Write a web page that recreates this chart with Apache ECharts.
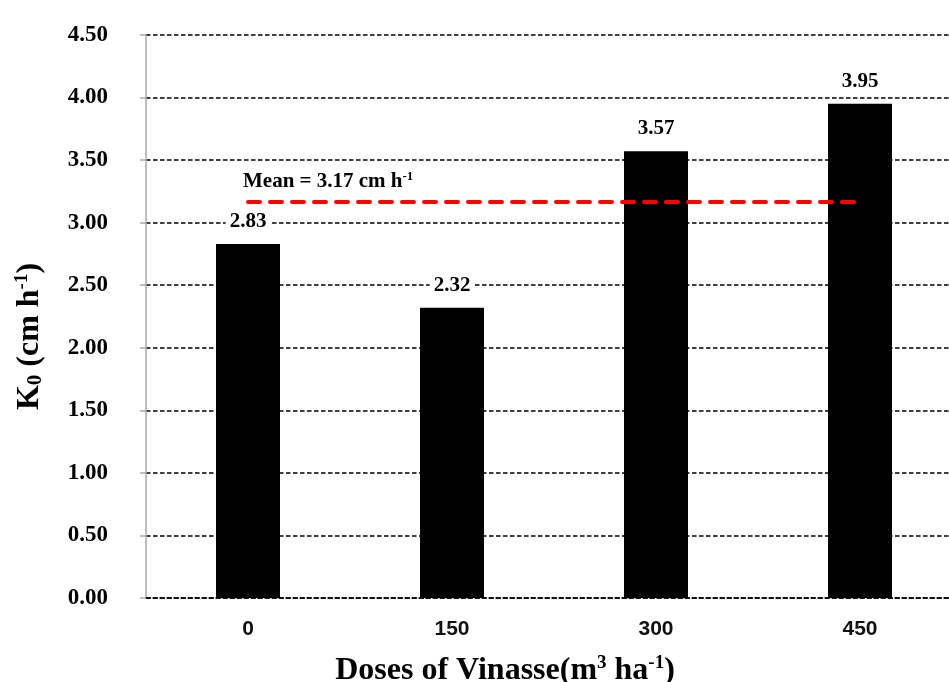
<!DOCTYPE html>
<html>
<head>
<meta charset="utf-8">
<script src="https://cdn.jsdelivr.net/npm/echarts@6/dist/echarts.min.js"></script>
<style>html,body{margin:0;padding:0;background:#fff}#c{width:949px;height:682px}</style>
</head>
<body>
<div id="c"></div>
<script>
const categories = ['0', '150', '300', '450'];
const k0Values = [2.83, 2.32, 3.57, 3.95];
const meanValue = 3.17;
const yTicks = { min: 0, max: 4.5, interval: 0.5 };

const serif = '"Liberation Serif", "Times New Roman", serif';
const chart = echarts.init(document.getElementById('c'), null, { renderer: 'canvas' });
chart.setOption({
  animation: false,
  backgroundColor: '#fff',
  grid: { left: 146, top: 35, bottom: 84, right: -13, containLabel: false, outerBoundsMode: 'none' },
  xAxis: {
    type: 'category',
    data: categories,
    axisTick: { show: false },
    axisLine: { show: true, lineStyle: { color: '#000', type: [4.5, 2.5], width: 1.5 } },
    axisLabel: { margin: 21, color: '#111', fontFamily: '"Liberation Sans", Arial, sans-serif', fontWeight: 'bold', fontSize: 21 },
    name: 'Doses of Vinasse(m{sup|3} ha{sup|-1})',
    nameLocation: 'middle',
    nameGap: 56,
    nameTextStyle: {
      fontFamily: serif, fontWeight: 'bold', fontSize: 32, color: '#000',
      padding: [0, 98, 0, 0],
      rich: { sup: { fontFamily: serif, fontWeight: 'bold', fontSize: 19, verticalAlign: 'top', padding: [0, 0, 14, 0], color: '#000' } }
    }
  },
  yAxis: {
    type: 'value',
    min: yTicks.min, max: yTicks.max, interval: yTicks.interval,
    axisLine: { show: true, lineStyle: { color: '#aaa', width: 1.5 } },
    axisTick: { show: true, length: 6, lineStyle: { color: '#aaa', width: 1.5 } },
    splitLine: { show: true, lineStyle: { color: '#000', type: [4.5, 2.5], width: 1.5 } },
    axisLabel: { margin: 38, color: '#000', fontFamily: serif, fontWeight: 'bold', fontSize: 23, formatter: v => v.toFixed(2) },
    name: 'K{sub|0} (cm h{sup|-1})',
    nameLocation: 'middle',
    nameGap: 100,
    nameRotate: 90,
    nameTextStyle: {
      fontFamily: serif, fontWeight: 'bold', fontSize: 32, color: '#000',
      padding: [0, 40, 0, 0],
      rich: {
        sup: { fontFamily: serif, fontWeight: 'bold', fontSize: 19, verticalAlign: 'top', padding: [0, 0, 14, 0], color: '#000' },
        sub: { fontFamily: serif, fontWeight: 'bold', fontSize: 21, verticalAlign: 'bottom', padding: [12, 0, 0, 0], color: '#000' }
      }
    }
  },
  series: [{
    type: 'bar',
    data: k0Values,
    barWidth: 64,
    itemStyle: { color: '#000' },
    label: {
      show: true, position: 'top', distance: 10,
      formatter: p => p.value.toFixed(2),
      fontFamily: serif, fontWeight: 'bold', fontSize: 21, color: '#000',
      backgroundColor: '#fff', padding: [2, 4]
    },
    markLine: {
      symbol: 'none',
      silent: true,
      lineStyle: { color: '#ff0000', type: [12, 10], width: 4, cap: 'round' },
      label: {
        show: true,
        position: 'insideStartTop',
        distance: [-5, 9],
        formatter: 'Mean = ' + meanValue.toFixed(2) + ' cm h{sup|-1}',
        fontFamily: serif, fontWeight: 'bold', fontSize: 21, color: '#000',
        rich: { sup: { fontFamily: serif, fontWeight: 'bold', fontSize: 13, verticalAlign: 'top', padding: [0, 0, 9, 0], color: '#000' } }
      },
      data: [[{ coord: [categories[0], meanValue] }, { coord: [categories[categories.length - 1], meanValue] }]]
    }
  }]
});
</script>
</body>
</html>
